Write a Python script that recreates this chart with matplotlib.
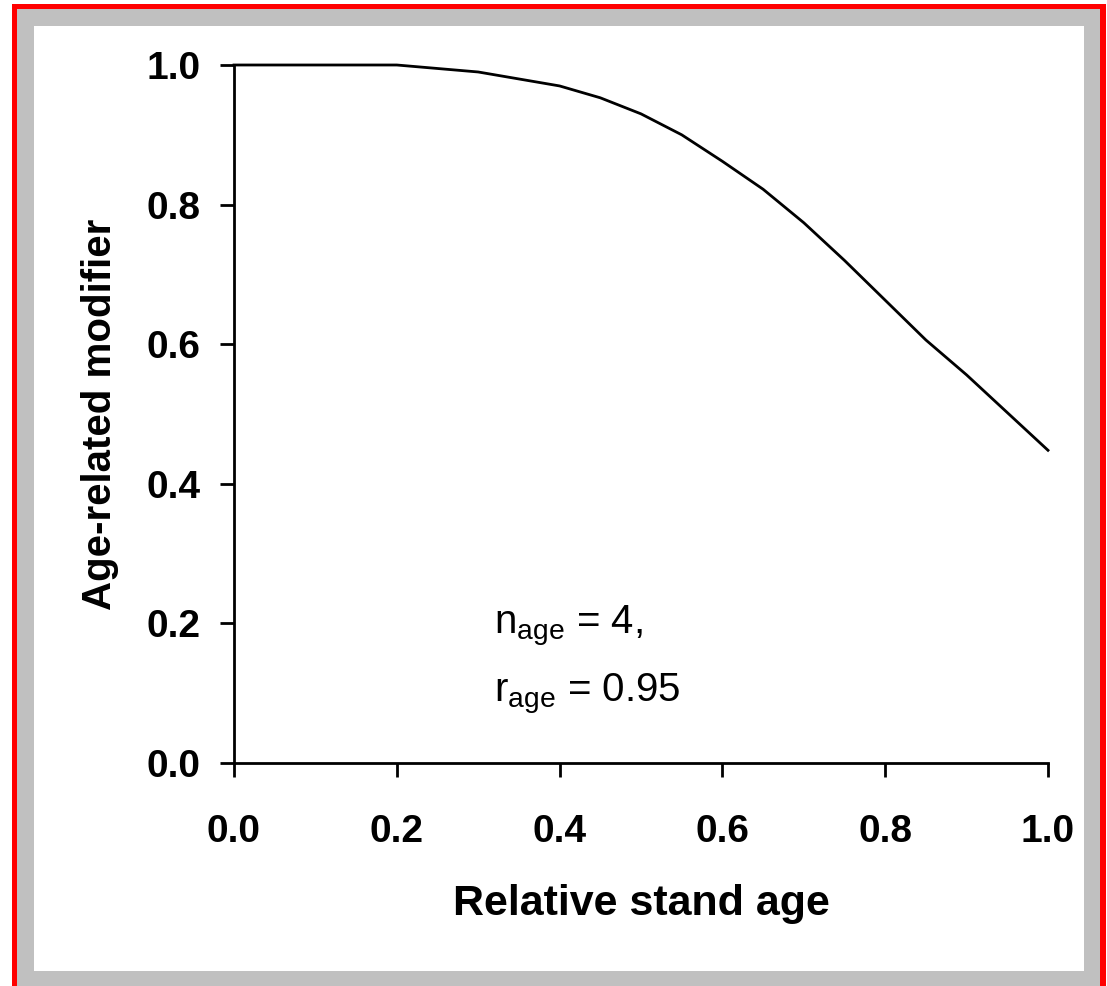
import matplotlib
matplotlib.use('Agg')
import matplotlib.pyplot as plt
from matplotlib.patches import Rectangle

# relative stand age vs age-related modifier (n_age = 4, r_age = 0.95)
age = [0.0, 0.1, 0.2, 0.3, 0.4, 0.45, 0.5, 0.55, 0.6, 0.65, 0.7, 0.75, 0.8, 0.85, 0.9, 0.95, 1.0]
modifier = [1.0, 1.0, 1.0, 0.99, 0.97, 0.953, 0.93, 0.90, 0.862, 0.822, 0.774, 0.72, 0.663, 0.606, 0.556, 0.502, 0.448]
ticks = [0.0, 0.2, 0.4, 0.6, 0.8, 1.0]

plt.rcParams['font.family'] = ['Liberation Sans', 'DejaVu Sans']
plt.rcParams['mathtext.fontset'] = 'custom'
plt.rcParams['mathtext.rm'] = 'Liberation Sans'

W, H = 1107, 986
fig = plt.figure(figsize=(W / 100, H / 100), dpi=100)

def box(x0, y0, x1, y1, color):
    # pixel coords from top-left
    fig.patches.append(Rectangle((x0 / W, 1 - y1 / H), (x1 - x0) / W, (y1 - y0) / H,
                                 transform=fig.transFigure, facecolor=color,
                                 edgecolor='none', zorder=-10))

box(12, 4, 1106, 990, '#ff0000')
box(17, 9, 1100, 990, '#c0c0c0')
box(34, 26, 1084, 971, '#ffffff')

ax = fig.add_axes([234 / W, 1 - 763 / H, (1048 - 234) / W, (763 - 65) / H])
ax.patch.set_alpha(0)
ax.plot(age, modifier, color='black', lw=2, clip_on=False)
ax.set_xlim(0, 1)
ax.set_ylim(0, 1)
ax.set_xticks(ticks)
ax.set_yticks(ticks)
ax.set_xticklabels(['%.1f' % t for t in ticks])
ax.set_yticklabels(['%.1f' % t for t in ticks])
for s in ['top', 'right']:
    ax.spines[s].set_visible(False)
for s in ['left', 'bottom']:
    ax.spines[s].set_linewidth(2)
ax.tick_params(axis='both', direction='out', length=10, width=2, labelsize=28)
ax.tick_params(axis='y', pad=14)
ax.tick_params(axis='x', pad=27)
for lab in ax.get_xticklabels() + ax.get_yticklabels():
    lab.set_fontweight('bold')

ax.set_xlabel('Relative stand age', fontsize=31, fontweight='bold', labelpad=24)
ax.set_ylabel('Age-related modifier', fontsize=29, fontweight='bold', labelpad=20)

ax.text(0.32, 0.186, r'n$_{\mathrm{age}}$ = 4,', fontsize=29)
ax.text(0.32, 0.088, r'r$_{\mathrm{age}}$ = 0.95', fontsize=29)

fig.savefig('out.png', dpi=100)
